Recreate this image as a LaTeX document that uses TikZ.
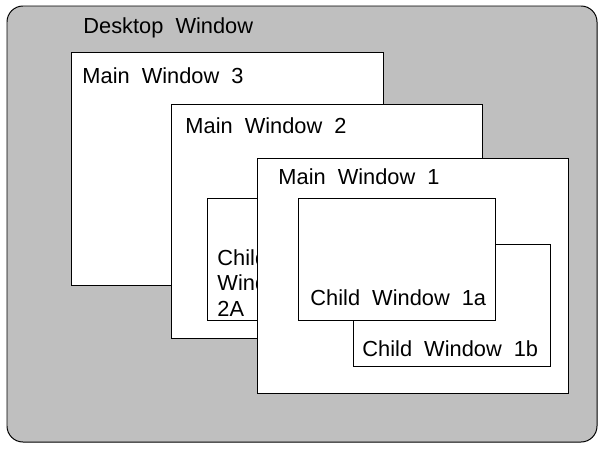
\documentclass[tikz,border=0pt]{standalone}
\usepackage{fontspec}
\setmainfont{Liberation Sans}[WordSpace=2]
\usetikzlibrary{positioning}

\begin{document}
\begin{tikzpicture}[x=0.025cm,y=-0.025cm,line width=0.7pt,
  win/.style={draw=black,fill=white},
  lbl/.style={anchor=base west,inner sep=0pt,font=\fontsize{15.5}{18}\selectfont}]
\useasboundingbox (0,0) rectangle (602,448);
% desktop
\draw[fill=black!25,rounded corners=0.4cm] (7,6) rectangle (597,442);
\node[lbl] (desk) at (83,33) {Desktop Window};
% main window 3
\draw[win] (71,52) rectangle (383,285);
\node[lbl] (mw3) at (82,83) {Main Window 3};
% main window 2 with its child
\draw[win] (171,104) rectangle (482,338);
\node[lbl] (mw2) at (185,133) {Main Window 2};
\draw[win] (207,198) rectangle (300,320);
\node[lbl,align=left] (cw2a) at (217,316) {Child\\Window\\2A};
% main window 1 with its children
\draw[win] (257,158) rectangle (568,393);
\node[lbl] (mw1) at (278,184) {Main Window 1};
\draw[win] (353,244) rectangle (550,366);
\node[lbl] (cw1b) at (362,356) {Child Window 1b};
\draw[win] (298,198) rectangle (495,320);
\node[lbl] (cw1a) at (310,305) {Child Window 1a};
\end{tikzpicture}
\end{document}
